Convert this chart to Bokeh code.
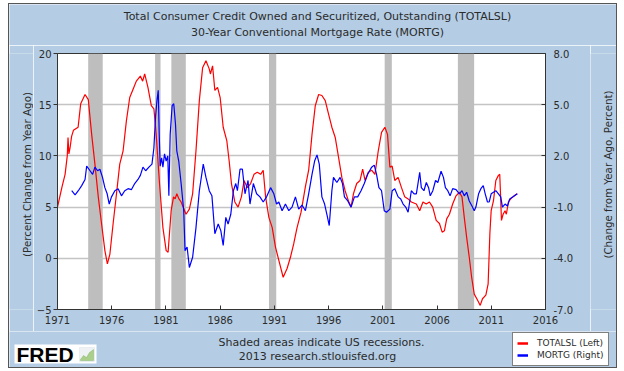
import math
from bokeh.plotting import figure
from bokeh.layouts import column, row
from bokeh.models import (Range1d, LinearAxis, FixedTicker, Label, Legend, LegendItem,
                          NumeralTickFormatter, BoxAnnotation, PolyAnnotation)
from bokeh.embed import file_html
from bokeh.resources import INLINE

# ---------------- text ----------------
TITLE_1 = "Total Consumer Credit Owned and Securitized, Outstanding (TOTALSL)"
TITLE_2 = "30-Year Conventional Mortgage Rate (MORTG)"
LEFT_LABEL = "(Percent Change from Year Ago)"
RIGHT_LABEL = "(Change from Year Ago, Percent)"
NOTE_1 = "Shaded areas indicate US recessions."
NOTE_2 = "2013 research.stlouisfed.org"
LEGEND_RED = "TOTALSL (Left)"
LEGEND_BLUE = "MORTG (Right)"

# ---------------- ticks ----------------
x_ticks = [1971, 1976, 1981, 1986, 1991, 1996, 2001, 2006, 2011, 2016]
left_ticks = [-5, 0, 5, 10, 15, 20]
right_ticks = [-7, -4, -1, 2, 5, 8]

# ---------------- recessions ----------------
rec_start = [1973.83, 1980.0, 1981.5, 1990.5, 2001.17, 2007.92]
rec_end = [1975.17, 1980.5, 1982.83, 1991.17, 2001.83, 2009.42]

# ---------------- TOTALSL, % change from year ago (left axis) ----------------
totalsl_year = [
    1971.0, 1971.4, 1971.7, 1971.9, 1971.97, 1972.05, 1972.16, 1972.3, 1972.47, 1972.9,
    1973.14, 1973.54, 1973.84, 1974.15, 1974.45, 1974.76, 1975.06, 1975.37, 1975.6, 1975.83,
    1976.13, 1976.44, 1976.74, 1977.05, 1977.35, 1977.66, 1977.97, 1978.27, 1978.64, 1978.85,
    1979.04, 1979.34, 1979.65, 1979.89, 1980.1, 1980.41, 1980.72, 1981.02, 1981.2, 1981.48,
    1981.7, 1981.85, 1982.0, 1982.2, 1982.4, 1982.85, 1983.16, 1983.46, 1983.77, 1984.08,
    1984.38, 1984.69, 1984.99, 1985.1, 1985.3, 1985.51, 1985.76, 1986.0, 1986.28, 1986.61,
    1986.83, 1987.04, 1987.35, 1987.65, 1987.96, 1988.2, 1988.51, 1988.81, 1989.12, 1989.42,
    1989.73, 1989.97, 1990.19, 1990.49, 1990.8, 1991.1, 1991.41, 1991.81, 1992.17, 1992.48,
    1992.78, 1993.09, 1993.46, 1993.86, 1994.16, 1994.47, 1994.77, 1995.08, 1995.38, 1995.69,
    1995.99, 1996.3, 1996.61, 1996.91, 1997.22, 1997.52, 1997.83, 1998.07, 1998.29, 1998.59,
    1998.9, 1999.14, 1999.36, 1999.66, 1999.97, 2000.27, 2000.58, 2000.88, 2001.19, 2001.43,
    2001.65, 2001.86, 2002.1, 2002.41, 2002.72, 2003.02, 2003.33, 2003.63, 2004.09, 2004.4,
    2004.7, 2005.0, 2005.3, 2005.6, 2005.92, 2006.22, 2006.47, 2006.68, 2006.89, 2007.14,
    2007.44, 2007.75, 2008.06, 2008.3, 2008.51, 2008.73, 2008.97, 2009.19, 2009.43, 2009.74,
    2009.98, 2010.19, 2010.5, 2010.71, 2010.87, 2010.99, 2011.2, 2011.42, 2011.66, 2011.78,
    2011.84, 2011.94, 2012.09, 2012.27, 2012.39, 2012.58, 2012.79, 2013.0, 2013.25, 2013.4,
]
totalsl_pct = [
    5.0, 6.9, 8.2, 10.0, 11.8, 10.2, 10.8, 11.9, 12.5, 12.8,
    15.1, 16.0, 15.5, 12.1, 9.2, 6.0, 3.4, 0.75, -0.55, 0.4,
    3.4, 6.3, 9.2, 10.5, 13.4, 15.7, 16.5, 17.3, 17.8, 17.3,
    18.0, 16.7, 14.9, 14.6, 12.1, 7.25, 3.0, 0.75, 0.6, 4.65,
    6.0, 5.8, 6.3, 5.8, 5.5, 4.3, 4.8, 6.3, 10.5, 15.4,
    18.6, 19.3, 18.5, 18.0, 18.8, 16.4, 16.7, 15.7, 12.8, 11.5,
    9.5, 7.3, 5.5, 5.0, 6.0, 7.6, 6.9, 7.3, 8.2, 8.4,
    8.2, 8.6, 6.0, 4.0, 3.0, 1.1, -0.2, -1.85, -1.0, 0.1,
    1.4, 3.0, 4.5, 7.0, 8.6, 12.1, 14.9, 16.0, 15.9, 15.4,
    14.1, 12.8, 11.8, 9.9, 7.9, 6.6, 5.6, 5.0, 6.3, 7.3,
    7.6, 8.7, 7.6, 8.4, 8.6, 8.2, 10.5, 12.3, 12.8, 12.1,
    8.9, 9.0, 7.6, 7.9, 6.9, 6.0, 5.8, 5.5, 5.3, 4.65,
    5.5, 5.3, 5.5, 5.0, 3.7, 3.4, 2.55, 2.7, 3.85, 4.3,
    5.3, 6.1, 6.45, 6.0, 4.0, 2.05, 0.1, -1.85, -3.5, -4.1,
    -4.6, -3.95, -3.6, -2.5, 2.4, 4.65, 5.6, 7.6, 8.1, 8.2,
    6.6, 3.7, 4.3, 4.65, 4.3, 5.5, 5.8, 6.0, 6.2, 6.3,
]

# ---------------- MORTG, change from year ago (right axis, percentage points) ----------------
mortg_year = [
    1972.31, 1972.62, 1972.92, 1973.23, 1973.54, 1973.69, 1974.0, 1974.24, 1974.45, 1974.7,
    1974.91, 1975.15, 1975.37, 1975.58, 1975.77, 1975.98, 1976.29, 1976.59, 1976.9, 1977.2,
    1977.51, 1977.81, 1978.12, 1978.42, 1978.64, 1978.88, 1979.13, 1979.43, 1979.71, 1979.89,
    1980.04, 1980.17, 1980.29, 1980.38, 1980.47, 1980.6, 1980.72, 1980.87, 1981.02, 1981.17,
    1981.27, 1981.39, 1981.57, 1981.72, 1981.88, 1982.0, 1982.18, 1982.4, 1982.64, 1982.76,
    1982.95, 1983.16, 1983.46, 1983.77, 1984.08, 1984.44, 1984.69, 1984.99, 1985.24, 1985.51,
    1985.82, 1986.06, 1986.28, 1986.52, 1986.73, 1986.98, 1987.22, 1987.44, 1987.59, 1987.83,
    1988.05, 1988.29, 1988.57, 1988.75, 1989.06, 1989.36, 1989.67, 1989.97, 1990.28, 1990.65,
    1990.95, 1991.2, 1991.41, 1991.71, 1992.02, 1992.33, 1992.63, 1992.94, 1993.24, 1993.55,
    1993.86, 1994.16, 1994.47, 1994.71, 1994.93, 1995.14, 1995.38, 1995.63, 1995.84, 1996.06,
    1996.3, 1996.45, 1996.76, 1997.06, 1997.28, 1997.46, 1997.77, 1998.07, 1998.38, 1998.68,
    1998.99, 1999.29, 1999.6, 1999.81, 1999.97, 2000.21, 2000.42, 2000.64, 2000.88, 2001.13,
    2001.34, 2001.65, 2001.86, 2002.1, 2002.41, 2002.65, 2002.87, 2003.11, 2003.33, 2003.63,
    2003.88, 2004.09, 2004.24, 2004.4, 2004.55, 2004.79, 2005.01, 2005.22, 2005.37, 2005.61,
    2005.86, 2006.07, 2006.37, 2006.59, 2006.77, 2006.99, 2007.2, 2007.44, 2007.75, 2008.06,
    2008.3, 2008.51, 2008.73, 2008.97, 2009.22, 2009.43, 2009.58, 2009.83, 2010.04, 2010.26,
    2010.44, 2010.65, 2010.81, 2010.99, 2011.2, 2011.42, 2011.66, 2011.87, 2012.03, 2012.27,
    2012.49, 2012.7, 2013.0, 2013.4,
]
mortg_chg = [
    -0.04, -0.28, -0.04, 0.26, 0.62, 1.40, 1.13, 0.92, 1.34, 1.13,
    1.22, 0.74, 0.14, -0.22, -0.82, -0.40, -0.04, 0.08, -0.34, -0.04,
    0.08, 0.02, 0.38, 0.62, 0.86, 1.34, 1.13, 1.34, 1.52, 2.48,
    4.28, 5.24, 5.84, 3.26, 1.40, 1.88, 1.34, 2.12, 1.70, 2.00,
    -0.34, 3.26, 4.94, 5.06, 3.86, 2.30, 1.70, 0.38, -1.21, -3.55,
    -3.34, -4.54, -3.94, -2.20, -0.04, 1.52, 0.74, -0.04, -0.34, -2.56,
    -1.99, -2.38, -3.25, -1.60, -1.99, -1.42, -0.04, 0.38, -0.04, 1.22,
    1.22, -0.22, 0.56, -0.82, 0.38, -0.22, -0.40, -0.70, -0.40, 0.14,
    -0.22, -0.82, -0.70, -1.21, -0.82, -1.21, -1.00, -0.40, -1.12, -0.88,
    -1.21, -0.22, 0.92, 1.70, 2.06, 1.52, -0.40, -0.82, -1.42, -2.08,
    -0.04, 0.74, 0.44, 0.74, 0.38, -0.40, -0.64, -1.00, -0.40, -0.40,
    -0.04, 0.38, 0.92, 1.16, 1.34, 1.46, 0.92, 0.14, -0.04, -1.21,
    -1.30, -1.12, -0.04, 0.08, -0.40, -0.52, -0.82, -1.00, -1.30, -0.04,
    -0.22, -0.22, 0.38, 1.04, 0.14, -0.04, 0.44, 0.14, -0.34, -0.04,
    0.56, 0.44, 1.10, 0.74, 0.14, -0.04, -0.34, 0.08, 0.02, -0.22,
    -0.04, -0.34, -0.13, -0.64, -0.94, -1.21, -1.00, -0.22, 0.08, 0.26,
    -0.22, -0.70, -0.70, -0.22, -0.13, -0.04, -0.22, -0.40, -1.00, -0.82,
    -0.94, -0.52, -0.40, -0.22,
]

FONT = "DejaVu Sans"
TXT = "#2b2b2b"
BG = "#b4cde4"
RED = "#ff0000"
BLUE = "#0000ff"


def strip(w, h):
    f = figure(width=w, height=h, x_range=Range1d(0, 1), y_range=Range1d(0, 1),
               x_axis_type=None, y_axis_type=None, output_backend="svg",
               toolbar_location=None, min_border=0,
               background_fill_color=BG, border_fill_color=BG, outline_line_color=None)
    f.grid.visible = False
    return f


def lab(f, text, x, y, size="10px", angle=0.0, font=FONT, color=TXT, align="center", **kw):
    f.add_layout(Label(x=x, y=y, x_units="screen", y_units="screen", text=text,
                       text_font=font, text_font_size=size, text_color=color,
                       text_align=align, text_baseline="middle", angle=angle, **kw))


# ---------------- main chart ----------------
p = figure(width=557, height=286,
           x_range=Range1d(x_ticks[0], x_ticks[-1]),
           y_range=Range1d(left_ticks[0], left_ticks[-1]),
           output_backend="svg", toolbar_location=None,
           min_border_left=21, min_border_right=45, min_border_top=8, min_border_bottom=22,
           background_fill_color="white", border_fill_color=BG,
           outline_line_color="#333333")
p.extra_y_ranges = {"right": Range1d(right_ticks[0], right_ticks[-1])}

for a, b in zip(rec_start, rec_end):
    p.add_layout(BoxAnnotation(left=a, right=b, fill_color="#bebebe", fill_alpha=1.0,
                               line_alpha=0, level="underlay"))

p.xaxis.ticker = FixedTicker(ticks=x_ticks)
p.yaxis.ticker = FixedTicker(ticks=left_ticks)
p.xgrid.visible = False
p.ygrid.ticker = FixedTicker(ticks=left_ticks[1:-1])
p.ygrid.grid_line_color = "#c4c4c4"
p.ygrid.grid_line_width = 1.5

raxis = LinearAxis(y_range_name="right", ticker=FixedTicker(ticks=right_ticks),
                   formatter=NumeralTickFormatter(format="0.0"))
p.add_layout(raxis, "right")

for ax in [p.xaxis[0], p.yaxis[0], raxis]:
    ax.major_label_text_font = FONT
    ax.major_label_text_font_size = "10px"
    ax.major_label_text_color = TXT
    ax.axis_line_color = "#333333"
    ax.major_tick_line_color = "#333333"
    ax.minor_tick_line_color = None

p.xaxis.major_tick_in = 4
p.xaxis.major_tick_out = 0
p.xaxis.major_label_standoff = 6
p.yaxis.major_tick_in = 0
p.yaxis.major_tick_out = 4
p.yaxis.major_label_standoff = 2
raxis.major_tick_in = 4
raxis.major_tick_out = 0
raxis.major_label_standoff = 8

p.line(totalsl_year, totalsl_pct, line_color=RED, line_width=1.2)
p.line(mortg_year, mortg_chg, line_color=BLUE, line_width=1.2, y_range_name="right")

# ---------------- side strips ----------------
top = strip(607, 41)
lab(top, TITLE_1, 308, 29, size="11px")
lab(top, TITLE_2, 308, 13, size="11px")

left = strip(24, 286)
lab(left, LEFT_LABEL, 17, 135, size="10.3px", angle=math.pi / 2)

right = strip(26, 286)
lab(right, RIGHT_LABEL, 17, 135, size="10.3px", angle=math.pi / 2)

bottom = strip(607, 36)
lab(bottom, NOTE_1, 312, 25, size="11px")
lab(bottom, NOTE_2, 308, 11, size="11px")
# FRED logo
bottom.add_layout(BoxAnnotation(left=5, right=87, bottom=4, top=23,
                                left_units="screen", right_units="screen",
                                bottom_units="screen", top_units="screen",
                                fill_color="white", fill_alpha=1.0, line_alpha=0))
lab(bottom, "FRED", 7, 13.5, size="21px", font="Liberation Sans", color="black",
    align="left", text_font_style="bold")
bottom.add_layout(BoxAnnotation(left=70, right=85, bottom=6, top=20,
                                left_units="screen", right_units="screen",
                                bottom_units="screen", top_units="screen",
                                fill_color="#eef2f4", fill_alpha=1.0,
                                line_color="#c8d4dc", line_width=1))
bottom.add_layout(PolyAnnotation(xs=[71, 74, 77, 80, 84, 84, 71],
                                 ys=[8, 12, 10, 15, 18, 7, 7],
                                 xs_units="screen", ys_units="screen",
                                 fill_color="#a9cf8a", fill_alpha=1.0,
                                 line_color="#5e9a3a", line_width=1))

# legend: proxy renderers (one off-screen point each) carry the line styles
red_proxy = bottom.line(x=totalsl_year[:1], y=totalsl_pct[:1], line_color=RED, line_width=2.5)
blue_proxy = bottom.line(x=mortg_year[:1], y=mortg_chg[:1], line_color=BLUE, line_width=2.5)
legend = Legend(items=[LegendItem(label=LEGEND_RED, renderers=[red_proxy]),
                       LegendItem(label=LEGEND_BLUE, renderers=[blue_proxy])],
                location=(503, 1), margin=0, padding=4, spacing=0,
                glyph_width=11, glyph_height=12, label_height=12, label_standoff=9,
                label_text_font=FONT, label_text_font_size="9px", label_text_color=TXT,
                border_line_color="black", border_line_width=1,
                background_fill_color="white", background_fill_alpha=1.0)
bottom.add_layout(legend)

layout = column(top, row(left, p, right), bottom,
                styles={"border": "1px solid #555555", "margin-left": "8px", "margin-top": "3px"})

open("out.html", "w").write(file_html(layout, INLINE))
